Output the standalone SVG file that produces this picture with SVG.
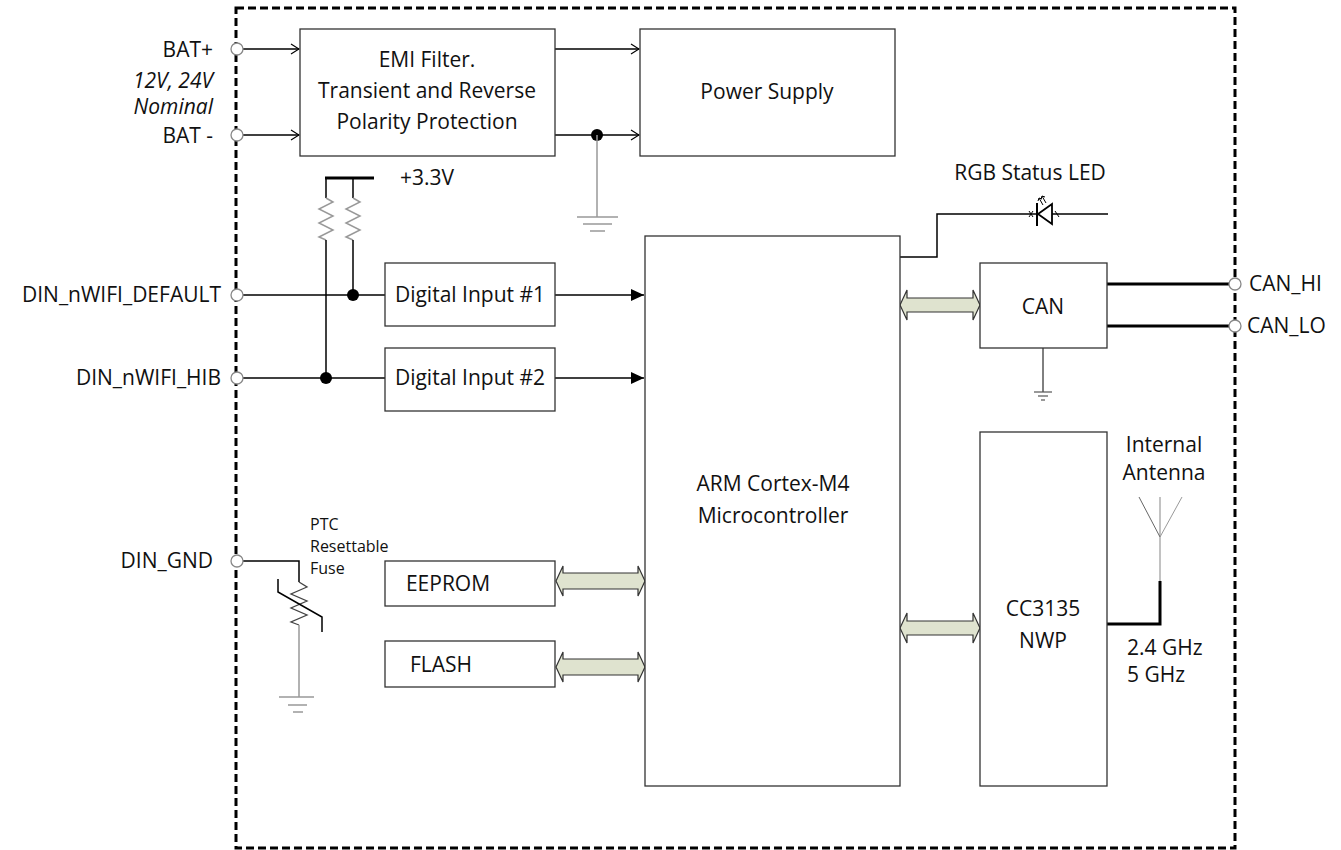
<svg xmlns="http://www.w3.org/2000/svg" width="1341" height="850" viewBox="0 0 1341 850">
<defs>
<style>
.box{fill:#fff;stroke:#333;stroke-width:1.3}
.t{font-family:"Open Sans","Liberation Sans",sans-serif;fill:#111}
.bl{font-size:21px;text-anchor:middle}
.el{font-size:21px}
.w{fill:none;stroke:#000;stroke-width:1.5}
.thick{fill:none;stroke:#000;stroke-width:3}
.g{fill:none;stroke:#999;stroke-width:1.5}
.term{fill:#fff;stroke:#888;stroke-width:1.3}
.dbl{fill:#dfe3cf;stroke:#333;stroke-width:1.2}
.dot{fill:#000}
</style>
<marker id="open" markerWidth="10" markerHeight="12" refX="9" refY="6" orient="auto" markerUnits="userSpaceOnUse">
<path d="M1,1 L9,6 L1,11" fill="none" stroke="#000" stroke-width="1.2"/>
</marker>
<marker id="fill" markerWidth="14" markerHeight="12" refX="13" refY="6" orient="auto" markerUnits="userSpaceOnUse">
<path d="M0,0 L13,6 L0,12 Z" fill="#000"/>
</marker>
</defs>
<rect width="1341" height="850" fill="#fff"/>

<g id="border">
<rect x="236" y="8" width="999" height="840" fill="none" stroke="#000" stroke-width="3" stroke-dasharray="8 4"/>
</g>

<g id="connectors">
<!-- battery -->
<line class="w" x1="243" y1="49" x2="299" y2="49" marker-end="url(#open)"/>
<line class="w" x1="243" y1="135" x2="299" y2="135" marker-end="url(#open)"/>
<line class="w" x1="555" y1="49" x2="639" y2="49" marker-end="url(#open)"/>
<line class="w" x1="555" y1="135" x2="639" y2="135" marker-end="url(#open)"/>
<circle class="dot" cx="597" cy="135" r="6"/>
<line class="g" x1="597" y1="135" x2="597" y2="217"/>
<g class="g"><line x1="577" y1="217" x2="618" y2="217"/><line x1="583" y1="224" x2="612" y2="224"/><line x1="590" y1="231" x2="605" y2="231"/></g>
<!-- pull-ups -->
<line class="thick" x1="325" y1="178" x2="374" y2="178"/>
<polyline class="w" points="326,178 326,198"/>
<polyline class="w" points="353,178 353,198"/>
<polyline class="g" points="326,198 333,202 319,209 333,216 319,223 333,230 319,237 326,240"/>
<polyline class="g" points="353,198 360,202 346,209 360,216 346,223 360,230 346,237 353,240"/>
<line class="w" x1="326" y1="240" x2="326" y2="378"/>
<line class="w" x1="353" y1="240" x2="353" y2="295"/>
<!-- digital inputs -->
<line class="w" x1="243" y1="295" x2="385" y2="295"/>
<line class="w" x1="243" y1="378" x2="385" y2="378"/>
<circle class="dot" cx="353" cy="295" r="6"/>
<circle class="dot" cx="326" cy="378" r="6"/>
<line class="w" x1="555" y1="295" x2="644" y2="295" marker-end="url(#fill)"/>
<line class="w" x1="555" y1="378" x2="644" y2="378" marker-end="url(#fill)"/>
<!-- PTC fuse -->
<polyline class="w" points="243,561 299,561 299,582"/>
<polyline fill="none" stroke="#444" stroke-width="1.3" points="299,582 307,587 291,594 307,601 291,608 307,615 291,622 299,625"/>
<polyline class="w" stroke-width="2" points="278,579 278,592 322,617 322,632"/>
<line class="g" x1="299" y1="625" x2="299" y2="697"/>
<g class="g"><line x1="279" y1="697" x2="314" y2="697"/><line x1="288" y1="705" x2="307" y2="705"/><line x1="293" y1="712" x2="303" y2="712"/></g>
<!-- bus arrows -->
<path class="dbl" d="M556,581 L563,566 L563,573 L638,573 L638,566 L645,581 L638,596 L638,589 L563,589 L563,596 Z"/>
<path class="dbl" d="M556,667 L563,652 L563,659 L638,659 L638,652 L645,667 L638,682 L638,675 L563,675 L563,682 Z"/>
<path class="dbl" d="M900,305 L907,290 L907,298 L973,298 L973,290 L980,305 L973,320 L973,312 L907,312 L907,320 Z"/>
<path class="dbl" d="M900,628 L907,613 L907,621 L973,621 L973,613 L980,628 L973,643 L973,635 L907,635 L907,643 Z"/>
<!-- LED -->
<polyline class="w" points="900,257 937,257 937,214 1036,214"/>
<line class="w" x1="1052" y1="214" x2="1108" y2="214"/>
<line x1="1037" y1="203" x2="1037" y2="226" stroke="#000" stroke-width="2"/>
<path d="M1038,214 L1052,204 L1052,224 Z" fill="#fff" stroke="#000" stroke-width="1.8"/>
<g stroke="#000" stroke-width="1" fill="none">
<line x1="1043" y1="205" x2="1039" y2="198"/><path d="M1038,201 L1039,198 L1042,199"/>
<line x1="1046" y1="203" x2="1042" y2="196"/><path d="M1041,199 L1042,196 L1045,197"/>
<line x1="1029" y1="211" x2="1033" y2="217"/><line x1="1033" y1="211" x2="1029" y2="217"/>
<line x1="1055" y1="211" x2="1059" y2="217"/>
</g>
<!-- CAN -->
<line class="thick" x1="1107" y1="284" x2="1229" y2="284"/>
<line class="thick" x1="1107" y1="326" x2="1229" y2="326"/>
<line stroke="#000" stroke-width="1" x1="1043" y1="348" x2="1043" y2="392"/>
<g stroke="#555" stroke-width="1.2"><line x1="1034" y1="392" x2="1052" y2="392"/><line x1="1038" y1="396" x2="1048" y2="396"/><line x1="1041" y1="400" x2="1045" y2="400"/></g>
<!-- antenna -->
<polyline class="thick" points="1107,624 1160,624 1160,581"/>
<line stroke="#999" stroke-width="1.2" x1="1160" y1="581" x2="1160" y2="497"/>
<line stroke="#666" stroke-width="1" x1="1139" y1="497" x2="1160" y2="537"/>
<line stroke="#999" stroke-width="1" x1="1182" y1="497" x2="1160" y2="537"/>
</g>

<g id="terminals">
<circle class="term" cx="237" cy="49" r="6"/>
<circle class="term" cx="237" cy="135" r="6"/>
<circle class="term" cx="237" cy="295" r="6"/>
<circle class="term" cx="237" cy="378" r="6"/>
<circle class="term" cx="237" cy="561" r="6"/>
<circle class="term" cx="1235" cy="284" r="6"/>
<circle class="term" cx="1235" cy="326" r="6"/>
</g>

<g id="node-emi"><rect class="box" x="300" y="29" width="255" height="127"/>
<text class="t bl" x="427" y="67">EMI Filter.</text>
<text class="t bl" x="427" y="98">Transient and Reverse</text>
<text class="t bl" x="427" y="129">Polarity Protection</text></g>
<g id="node-power"><rect class="box" x="640" y="29" width="255" height="127"/>
<text class="t bl" x="767" y="99">Power Supply</text></g>
<g id="node-din1"><rect class="box" x="385" y="263" width="170" height="63"/>
<text class="t bl" x="470" y="302">Digital Input #1</text></g>
<g id="node-din2"><rect class="box" x="385" y="348" width="170" height="63"/>
<text class="t bl" x="470" y="385">Digital Input #2</text></g>
<g id="node-eeprom"><rect class="box" x="385" y="561" width="170" height="45"/>
<text class="t bl" x="448" y="591">EEPROM</text></g>
<g id="node-flash"><rect class="box" x="385" y="641" width="170" height="46"/>
<text class="t bl" x="441" y="672">FLASH</text></g>
<g id="node-arm"><rect class="box" x="645" y="236" width="255" height="550"/>
<text class="t bl" x="773" y="491">ARM Cortex-M4</text>
<text class="t bl" x="773" y="523">Microcontroller</text></g>
<g id="node-can"><rect class="box" x="980" y="263" width="127" height="85"/>
<text class="t bl" x="1043" y="314">CAN</text></g>
<g id="node-cc3135"><rect class="box" x="980" y="432" width="127" height="354"/>
<text class="t bl" x="1043" y="616">CC3135</text>
<text class="t bl" x="1043" y="648">NWP</text></g>

<g id="labels">
<text class="t el" x="213" y="57" text-anchor="end">BAT+</text>
<text class="t el" x="213" y="88" text-anchor="end" font-style="italic">12V, 24V</text>
<text class="t el" x="213" y="114" text-anchor="end" font-style="italic">Nominal</text>
<text class="t el" x="213" y="143" text-anchor="end">BAT -</text>
<text class="t el" x="221" y="302" text-anchor="end" font-size="22">DIN_nWIFI_DEFAULT</text>
<text class="t el" x="221" y="385" text-anchor="end" font-size="22">DIN_nWIFI_HIB</text>
<text class="t el" x="213" y="568" text-anchor="end">DIN_GND</text>
<text class="t el" x="400" y="185">+3.3V</text>
<text class="t el" x="1030" y="180" text-anchor="middle" font-size="20">RGB Status LED</text>
<text class="t el" x="1249" y="291">CAN_HI</text>
<text class="t el" x="1247" y="333">CAN_LO</text>
<text class="t el" x="1164" y="452" text-anchor="middle">Internal</text>
<text class="t el" x="1164" y="480" text-anchor="middle">Antenna</text>
<text class="t el" x="1127" y="655">2.4 GHz</text>
<text class="t el" x="1127" y="682">5 GHz</text>
<text class="t" font-size="16" x="310" y="530">PTC</text>
<text class="t" font-size="16" x="310" y="552">Resettable</text>
<text class="t" font-size="16" x="310" y="574">Fuse</text>
</g>
</svg>
